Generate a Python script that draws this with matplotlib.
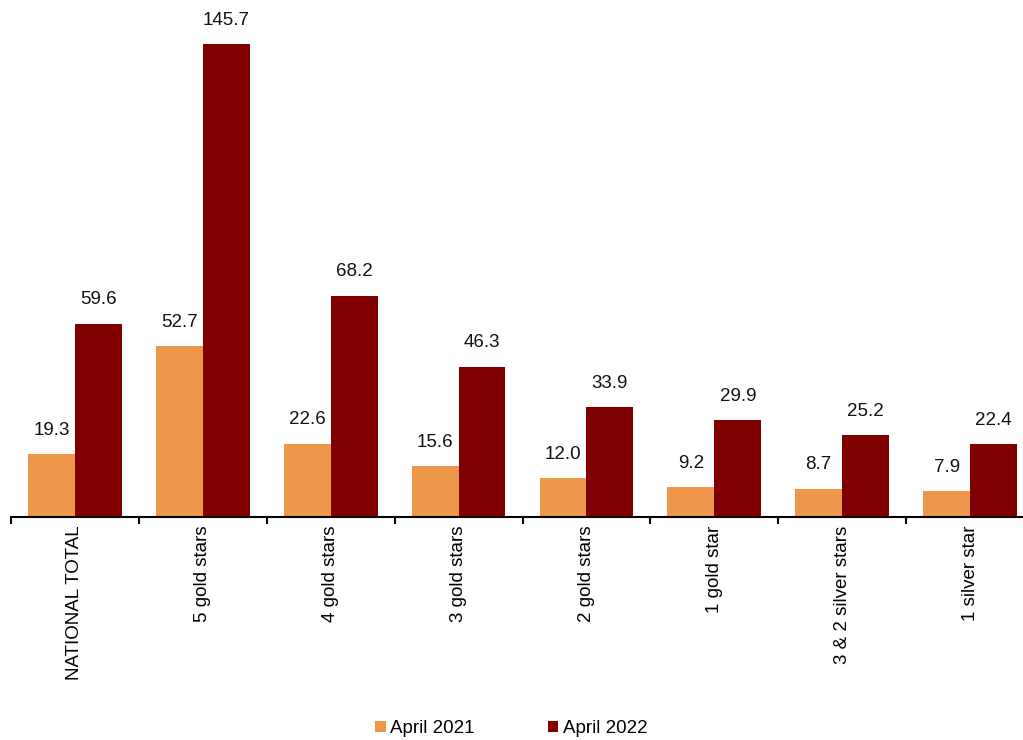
import numpy as np
import matplotlib.pyplot as plt

plt.rcParams['font.family'] = ['Liberation Sans', 'DejaVu Sans']

categories = ["NATIONAL TOTAL", "5 gold stars", "4 gold stars", "3 gold stars",
              "2 gold stars", "1 gold star", "3 & 2 silver stars", "1 silver star"]
april_2021 = [19.3, 52.7, 22.6, 15.6, 12.0, 9.2, 8.7, 7.9]
april_2022 = [59.6, 145.7, 68.2, 46.3, 33.9, 29.9, 25.2, 22.4]

col_2021 = '#EE964A'
col_2022 = '#800000'
fs = 13.5

fig = plt.figure(figsize=(10.23, 7.40), dpi=100)
# axes runs a little past the right edge of the figure
ax = fig.add_axes([11 / 1023, 223 / 740, 1023 / 1023, 517 / 740])

x = np.arange(len(categories))
w = 0.367
b1 = ax.bar(x - w / 2, april_2021, w, color=col_2021, label='April 2021')
b2 = ax.bar(x + w / 2, april_2022, w, color=col_2022, label='April 2022')

for bars, vals in ((b1, april_2021), (b2, april_2022)):
    for r, v in zip(bars, vals):
        ax.annotate(f"{v:.1f}", (r.get_x() + r.get_width() / 2, v),
                    xytext=(0, 11), textcoords='offset points',
                    ha='center', va='bottom', fontsize=fs, color='#111111')

ax.set_xlim(-0.5, 7.5)
ax.set_ylim(0, 159.3)

for s in ['top', 'right', 'left']:
    ax.spines[s].set_visible(False)
ax.spines['bottom'].set_linewidth(1.5)
ax.set_yticks([])

ax.set_xticks(np.arange(-0.5, 8, 1.0))
ax.set_xticklabels([])
ax.tick_params(axis='x', which='major', length=5, width=1.5, direction='out')
ax.set_xticks(x, minor=True)
ax.set_xticklabels(categories, minor=True, rotation=90, fontsize=fs, va='top')
ax.tick_params(axis='x', which='minor', length=0, pad=6)

fig.legend(loc='center', bbox_to_anchor=(0.5, 0.015), ncol=2, frameon=False,
           fontsize=fs, handlelength=0.55, handleheight=0.55,
           handletextpad=0.25, columnspacing=3.9)

fig.savefig('out.png', dpi=100)
